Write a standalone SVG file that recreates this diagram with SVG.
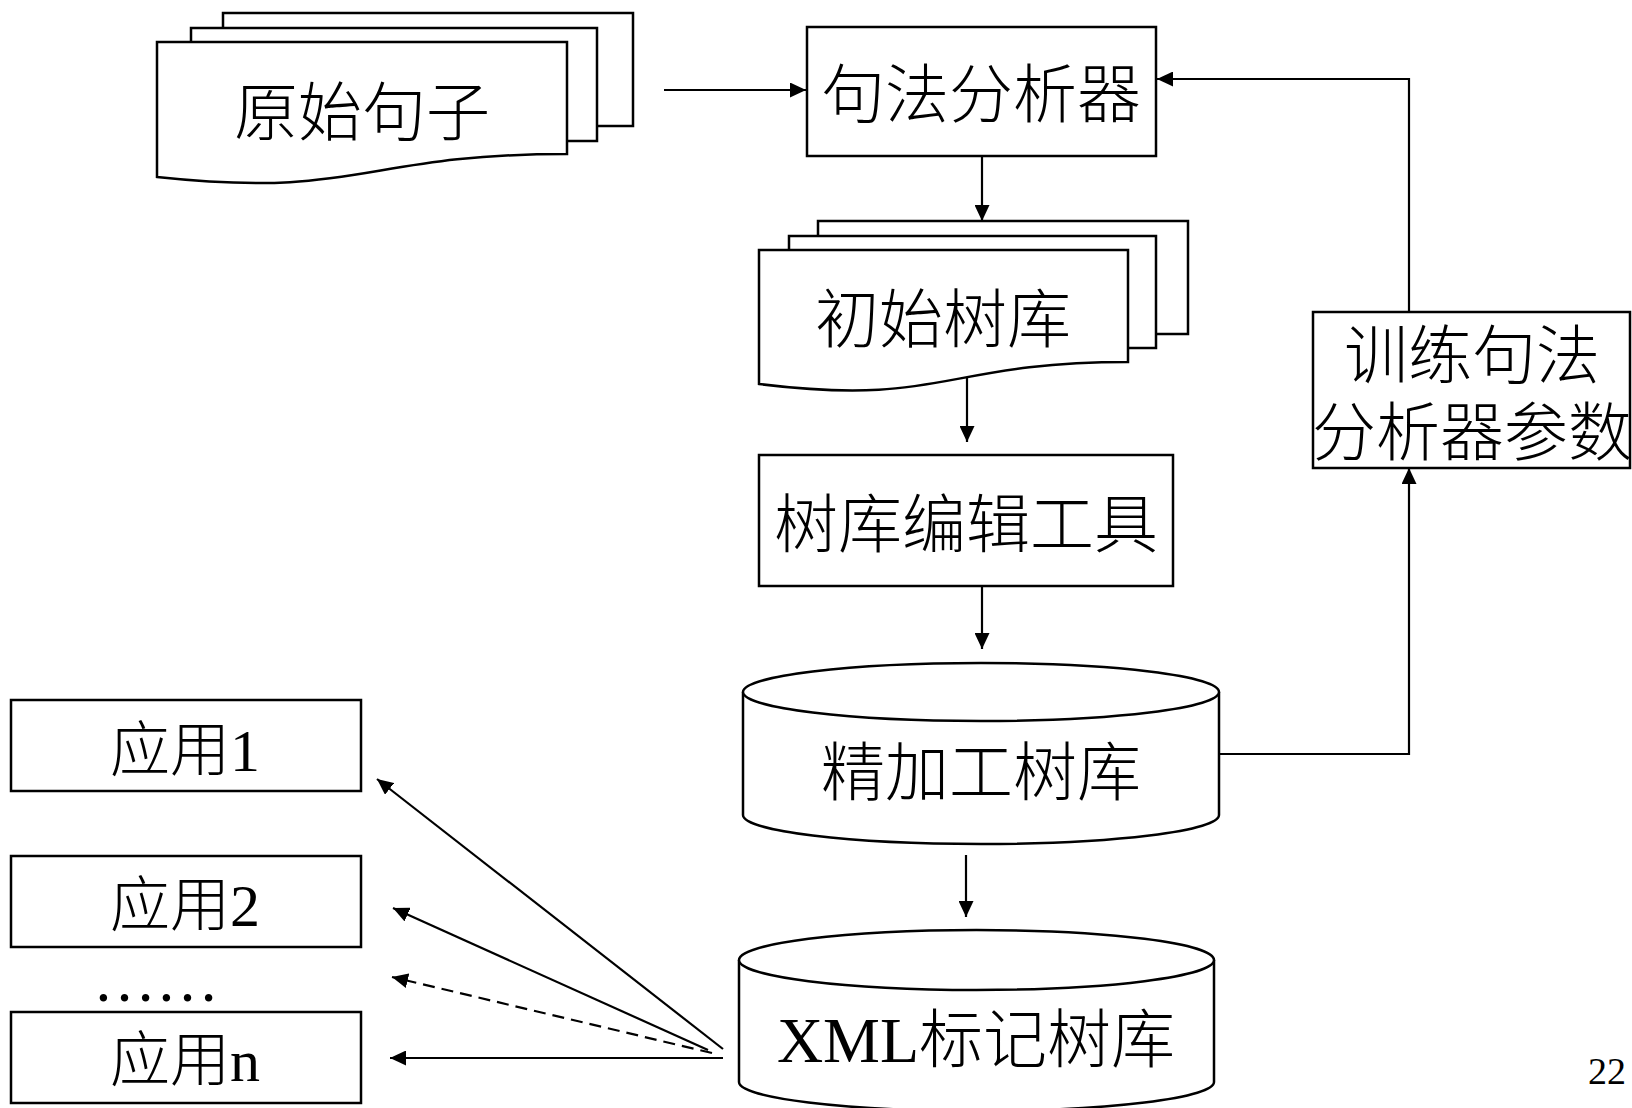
<svg xmlns="http://www.w3.org/2000/svg" width="1632" height="1108" viewBox="0 0 1632 1108">
<style>
.s{fill:#fff;stroke:#000;stroke-width:2.5;stroke-linejoin:miter}
.t{font-family:"Liberation Serif","Noto Sans CJK SC",serif;font-size:64px;font-weight:300;fill:#000;text-anchor:middle}
.c{fill:none;stroke:#000;stroke-width:2.2}
.d{stroke-dasharray:12 7}
</style>
<defs>
<marker id="arr" markerWidth="16" markerHeight="15" refX="16" refY="7.5" orient="auto" markerUnits="userSpaceOnUse">
<path d="M0,0 L16,7.5 L0,15 z" fill="#000" stroke="none"/>
</marker>
</defs>
<rect width="1632" height="1108" fill="#fff"/>

<g id="raw-sentences">
<rect class="s" x="223" y="13" width="410" height="113"/>
<rect class="s" x="191" y="28" width="406" height="113"/>
<path class="s" d="M157,42 L567,42 L567,154 C362,154 362,199 157,177 Z"/>
<text class="t" x="362" y="135">原始句子</text>
</g>

<g id="parser">
<rect class="s" x="807" y="27" width="349" height="129"/>
<text class="t" x="981" y="117">句法分析器</text>
</g>

<g id="initial-treebank">
<rect class="s" x="818" y="221" width="370" height="113"/>
<rect class="s" x="789" y="236" width="367" height="112"/>
<path class="s" d="M759,250 L1128,250 L1128,362 C943,362 943,407 759,384 Z"/>
<text class="t" x="943" y="342">初始树库</text>
</g>

<g id="editor">
<rect class="s" x="759" y="455" width="414" height="131"/>
<text class="t" x="966" y="547">树库编辑工具</text>
</g>

<g id="refined-treebank">
<path class="s" d="M743,692 L743,815 A238,29 0 0 0 1219,815 L1219,692"/>
<ellipse class="s" cx="981" cy="692" rx="238" ry="29"/>
<text class="t" x="981" y="795">精加工树库</text>
</g>

<g id="xml-treebank">
<path class="s" d="M739,960 L739,1082 A237.5,29 0 0 0 1214,1082 L1214,960"/>
<ellipse class="s" cx="976.5" cy="960" rx="237.5" ry="30"/>
<text class="t" x="976" y="1062">XML标记树库</text>
</g>

<g id="train-params">
<rect class="s" x="1313" y="312" width="317" height="156"/>
<text class="t" x="1472" y="378">训练句法</text>
<text class="t" x="1472" y="455">分析器参数</text>
</g>

<g id="app1">
<rect class="s" x="11" y="700" width="350" height="91"/>
<text class="t" x="185" y="771" style="font-size:60px">应用1</text>
</g>
<g id="app2">
<rect class="s" x="11" y="856" width="350" height="91"/>
<text class="t" x="185" y="926" style="font-size:60px">应用2</text>
</g>
<text class="t" x="93" y="1001" style="font-size:63px;text-anchor:start">……</text>
<g id="appn">
<rect class="s" x="11" y="1012" width="350" height="91"/>
<text class="t" x="185" y="1081" style="font-size:60px">应用n</text>
</g>

<text class="t" x="1588" y="1084" style="font-size:38px;text-anchor:start">22</text>

<g id="connectors">
<line class="c" x1="664" y1="90" x2="806" y2="90" marker-end="url(#arr)"/>
<line class="c" x1="982" y1="156" x2="982" y2="221" marker-end="url(#arr)"/>
<line class="c" x1="967" y1="377" x2="967" y2="442" marker-end="url(#arr)"/>
<line class="c" x1="982" y1="586" x2="982" y2="649" marker-end="url(#arr)"/>
<line class="c" x1="966" y1="855" x2="966" y2="917" marker-end="url(#arr)"/>
<polyline class="c" points="1219,754 1409,754 1409,468" marker-end="url(#arr)"/>
<polyline class="c" points="1409,312 1409,79 1157,79" marker-end="url(#arr)"/>
<line class="c" x1="723" y1="1049" x2="377" y2="779" marker-end="url(#arr)"/>
<line class="c" x1="708" y1="1050" x2="393" y2="908" marker-end="url(#arr)"/>
<line class="c d" x1="712" y1="1053" x2="392" y2="977" marker-end="url(#arr)"/>
<line class="c" x1="723" y1="1058" x2="390" y2="1058" marker-end="url(#arr)"/>
</g>
</svg>
